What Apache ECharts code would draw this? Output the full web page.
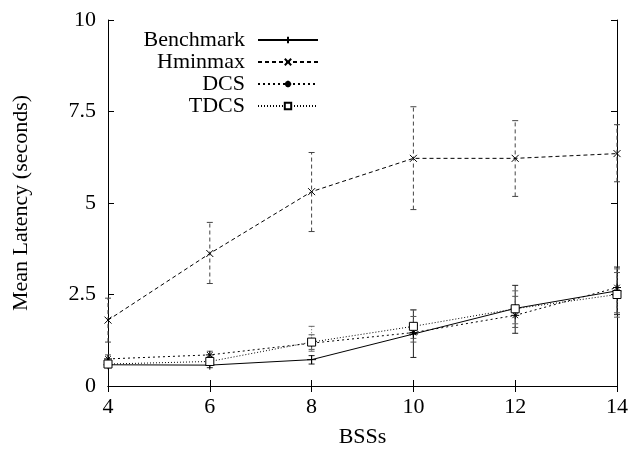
<!DOCTYPE html>
<html>
<head>
<meta charset="utf-8">
<script src="https://cdn.jsdelivr.net/npm/echarts@6/dist/echarts.min.js"></script>
<style>html,body{margin:0;padding:0;background:#fff}#c{width:631px;height:453px}</style>
</head>
<body>
<div id="c"></div>
<script>
const bss = [4, 6, 8, 10, 12, 14];
const yTicks = [0, 2.5, 5, 7.5, 10];
const seriesNames = ['Benchmark', 'Hminmax', 'DCS', 'TDCS'];

const benchmark     = [0.58, 0.57, 0.72, 1.42, 2.12, 2.60];
const benchmarkLow  = [0.50, 0.50, 0.60, 0.78, 1.44, 1.95];
const benchmarkHigh = [0.66, 0.65, 0.83, 2.08, 2.75, 3.25];

const hminmax     = [1.80, 3.62, 5.31, 6.22, 6.22, 6.35];
const hminmaxLow  = [1.20, 2.80, 4.22, 4.82, 5.18, 5.58];
const hminmaxHigh = [2.40, 4.47, 6.38, 7.63, 7.25, 7.14];

const dcs     = [0.74, 0.85, 1.17, 1.46, 1.93, 2.69];
const dcsLow  = [0.65, 0.75, 1.00, 1.20, 1.60, 2.00];
const dcsHigh = [0.85, 0.95, 1.40, 1.90, 2.45, 3.10];

const tdcs     = [0.60, 0.67, 1.20, 1.63, 2.11, 2.50];
const tdcsLow  = [0.52, 0.58, 0.95, 1.30, 1.70, 1.88];
const tdcsHigh = [0.70, 0.80, 1.63, 2.08, 2.60, 3.20];

const FONT = '"Liberation Serif", "DejaVu Serif", serif';
const FS = 22;
const pairs = (ys) => bss.map((x, i) => [x, ys[i]]);
const bars = (lo, hi) => bss.map((x, i) => [x, lo[i], hi[i]]);

function errorSeries(name, data, dash, color) {
  return {
    type: 'custom', name: name + ' err', data: data, z: 1, silent: true,
    encode: { x: 0, y: [1, 2] },
    renderItem: function (params, api) {
      const x = api.value(0);
      const lo = api.coord([x, api.value(1)]);
      const hi = api.coord([x, api.value(2)]);
      const hw = 3;
      const st = { stroke: color, lineWidth: 1, lineDash: dash };
      return {
        type: 'group',
        children: [
          { type: 'line', shape: { x1: lo[0], y1: lo[1], x2: hi[0], y2: hi[1] }, style: st },
          { type: 'line', shape: { x1: lo[0] - hw, y1: lo[1], x2: lo[0] + hw, y2: lo[1] }, style: { stroke: color, lineWidth: 1 } },
          { type: 'line', shape: { x1: hi[0] - hw, y1: hi[1], x2: hi[0] + hw, y2: hi[1] }, style: { stroke: color, lineWidth: 1 } }
        ]
      };
    }
  };
}

function lineSeries(name, ys, dash, symbol, size, fill) {
  return {
    type: 'line', name: name, data: pairs(ys), z: 3,
    symbol: symbol, symbolSize: size, showAllSymbol: true,
    lineStyle: { color: '#000', width: 1, type: dash },
    itemStyle: { color: fill || '#000', borderColor: '#000', borderWidth: 1 },
    emphasis: { disabled: true },
    animation: false
  };
}

const chart = echarts.init(document.getElementById('c'), null, { renderer: 'canvas' });
const axisCommon = {
  axisLine: { lineStyle: { color: '#000', width: 1 } },
  axisTick: { inside: true, length: 6, lineStyle: { color: '#000' } },
  splitLine: { show: false }
};
chart.setOption({
  animation: false,
  backgroundColor: '#fff',
  textStyle: { fontFamily: FONT },
  grid: { left: 108, right: 13, top: 20, bottom: 66 },
  legend: {
    data: seriesNames,
    orient: 'vertical', align: 'right',
    left: 134, top: 24,
    itemWidth: 60, itemHeight: 8, itemGap: 0,
    textStyle: { fontFamily: FONT, fontSize: FS, color: '#000', width: 106, align: 'right', lineHeight: 22, padding: [0, 8, 0, 0] },
    selectedMode: false
  },
  xAxis: [
    Object.assign({}, axisCommon, {
      type: 'value', min: 4, max: 14, interval: 2,
      name: 'BSSs', nameLocation: 'middle', nameGap: 40,
      nameTextStyle: { fontFamily: FONT, fontSize: FS, color: '#000' },
      axisLabel: { fontFamily: FONT, fontSize: FS, color: '#000', margin: 10 }
    }),
    Object.assign({}, axisCommon, {
      type: 'value', min: 4, max: 14, interval: 2, position: 'top',
      axisLabel: { show: false }
    })
  ],
  yAxis: [
    Object.assign({}, axisCommon, {
      type: 'value', min: 0, max: 10, interval: 2.5,
      name: 'Mean Latency (seconds)', nameLocation: 'middle', nameGap: 76,
      nameTextStyle: { fontFamily: FONT, fontSize: FS, color: '#000' },
      axisLabel: { fontFamily: FONT, fontSize: FS, color: '#000', margin: 12,
        formatter: function (v) { return yTicks.indexOf(v) >= 0 ? String(v) : ''; } }
    }),
    Object.assign({}, axisCommon, {
      type: 'value', min: 0, max: 10, interval: 2.5, position: 'right',
      axisLabel: { show: false }
    })
  ],
  series: [
    errorSeries('Benchmark', bars(benchmarkLow, benchmarkHigh), null, '#222'),
    errorSeries('Hminmax', bars(hminmaxLow, hminmaxHigh), [4, 3], '#444'),
    errorSeries('DCS', bars(dcsLow, dcsHigh), [2, 3], '#555'),
    errorSeries('TDCS', bars(tdcsLow, tdcsHigh), [1, 2], '#666'),
    lineSeries('Benchmark', benchmark, 'solid', 'path://M0,5L10,5M5,0L5,10', 9),
    lineSeries('Hminmax', hminmax, [4, 3], 'path://M0,0L10,10M10,0L0,10', 7),
    lineSeries('DCS', dcs, [2, 3], 'path://M0,5L10,5M5,0L5,10M1.5,1.5L8.5,8.5M8.5,1.5L1.5,8.5', 8),
    lineSeries('TDCS', tdcs, [1, 2], 'path://M0,0L10,0L10,10L0,10Z', 8, '#fff')
  ]
});
</script>
</body>
</html>
